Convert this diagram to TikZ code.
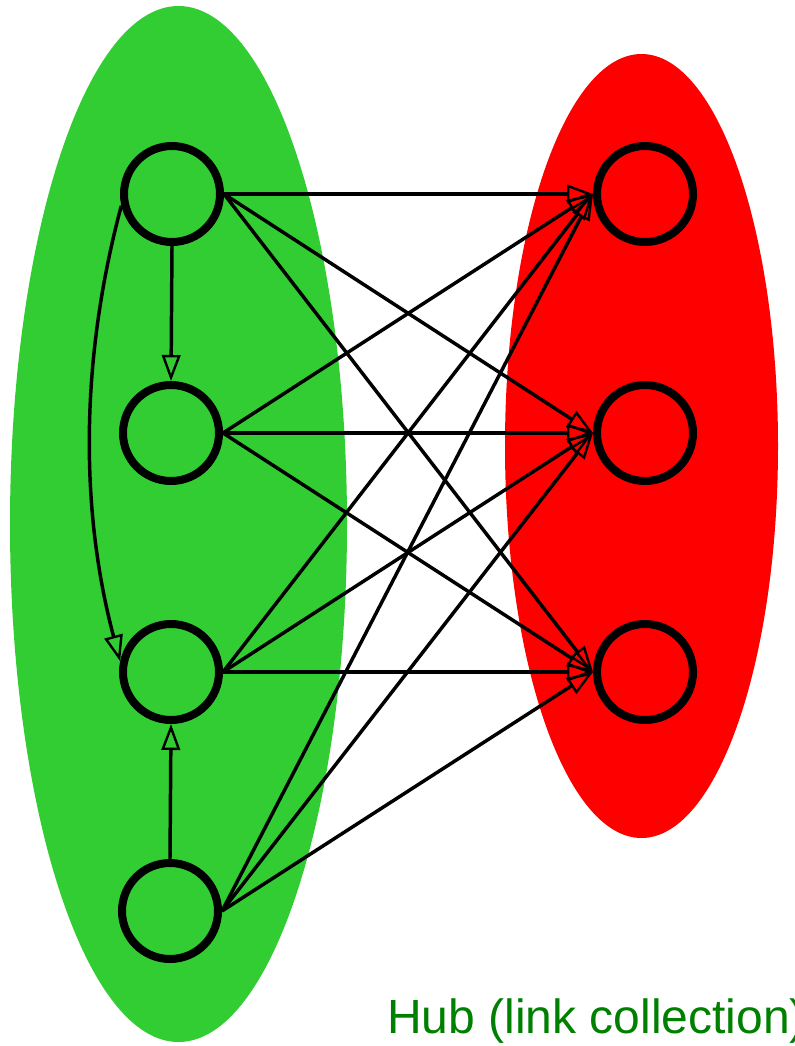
\documentclass[tikz,border=0pt]{standalone}
\usepackage{fontspec}
\setmainfont{Liberation Sans}
\usetikzlibrary{arrows.meta}
\definecolor{authgreen}{RGB}{50,205,50}
\definecolor{hubred}{RGB}{255,0,0}
\definecolor{labelgreen}{RGB}{0,128,0}
\begin{document}
\begin{tikzpicture}[x=0.75pt,y=-0.75pt,
  page/.style={circle,draw=black,line width=6pt,minimum size=72pt,inner sep=0pt},
  link/.style={draw=black,line width=2.6pt,
    -{Triangle[open,length=19.5pt,width=14pt,line width=1.8pt]}}]
  \useasboundingbox (0,0) rectangle (794,1046);
  % the two groups
  \fill[authgreen] (178.5,524) ellipse [x radius=168.5, y radius=518];
  \fill[hubred] (641.5,446) ellipse [x radius=136.5, y radius=392];
  % pages
  \node[page] (a1) at (172,194) {};
  \node[page] (a2) at (171,433) {};
  \node[page] (a3) at (171,672) {};
  \node[page] (a4) at (170,911) {};
  \node[page] (h1) at (645,194) {};
  \node[page] (h2) at (645,433) {};
  \node[page] (h3) at (645,672) {};
  % links inside the green group
  \draw[link] (a1.south) -- (a2.north);
  \draw[link] (a4.north) -- (a3.south);
  \draw[link] (a1.193) .. controls (80,360) and (80,510) .. (a3.168);
  % links into the red group
  \foreach \s in {a1,a2,a3,a4}
    \foreach \t in {h1,h2,h3}
      \draw[link] (\s.east) -- (\t.west);
  % caption
  \node[anchor=base west,inner sep=0pt,text=labelgreen,font=\fontsize{36pt}{40pt}\selectfont]
    (cap) at (387,1033) {Hub (link collection)};
\end{tikzpicture}
\end{document}
